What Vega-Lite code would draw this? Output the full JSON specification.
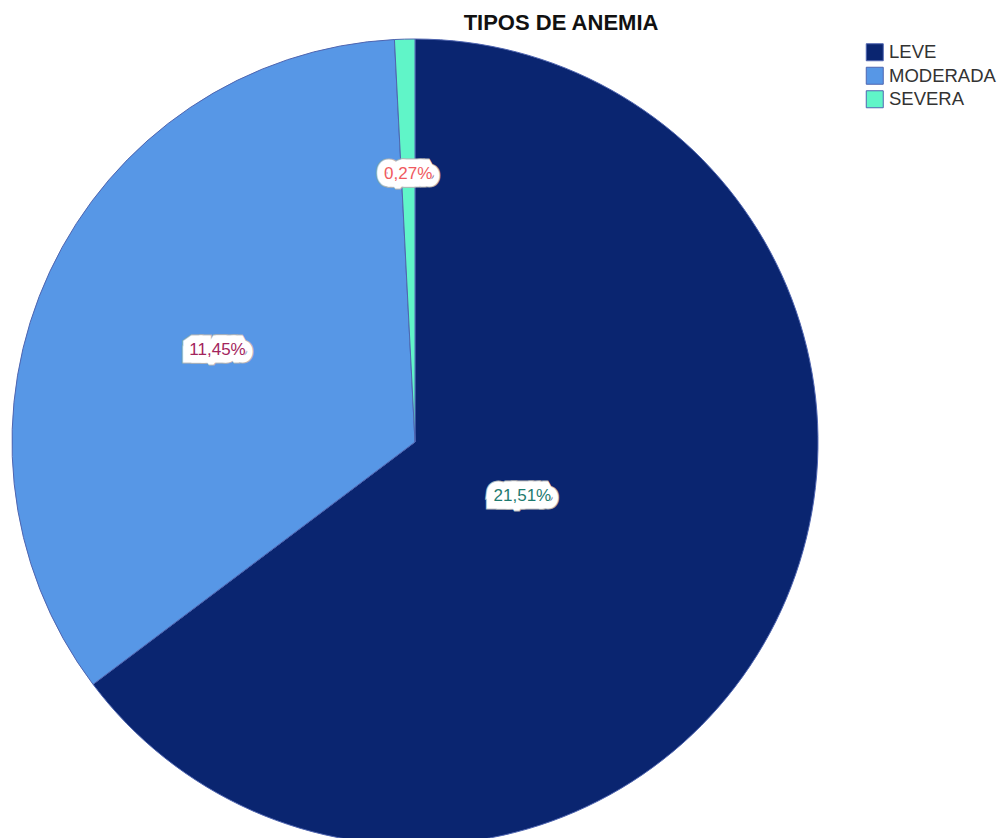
{
  "$schema": "https://vega.github.io/schema/vega-lite/v6.json",
  "width": 830,
  "height": 792,
  "autosize": {"type": "none"},
  "padding": {"top": 46, "left": 0, "right": 174, "bottom": 0},
  "background": "white",
  "title": {
    "text": "TIPOS DE ANEMIA",
    "fontSize": 22,
    "font": "Liberation Sans",
    "fontWeight": "bold",
    "color": "#111111",
    "anchor": "middle",
    "frame": "group",
    "baseline": "alphabetic",
    "offset": -15,
    "dx": 146
  },
  "data": {
    "values": [
      {"tipo": "LEVE", "porcentaje": 21.51, "etiqueta": "21,51%"},
      {"tipo": "MODERADA", "porcentaje": 11.45, "etiqueta": "11,45%"},
      {"tipo": "SEVERA", "porcentaje": 0.27, "etiqueta": "0,27%"}
    ]
  },
  "encoding": {
    "theta": {"field": "porcentaje", "type": "quantitative", "stack": true},
    "order": {"field": "tipo", "type": "ordinal", "sort": "ascending"}
  },
  "layer": [
    {
      "mark": {"type": "arc", "radius": 403, "stroke": "#4f65b0", "strokeWidth": 1},
      "encoding": {
        "color": {
          "field": "tipo",
          "type": "nominal",
          "scale": {"domain": ["LEVE", "MODERADA", "SEVERA"], "range": ["#0a2570", "#5797e6", "#60f5c8"]},
          "legend": {
            "title": null,
            "orient": "none",
            "legendX": 865.5,
            "legendY": -3,
            "symbolType": "square",
            "symbolSize": 289,
            "symbolStrokeColor": "#4f65b0",
            "symbolStrokeWidth": 1,
            "labelFontSize": 18.5,
            "labelFont": "Liberation Sans",
            "labelColor": "#333333",
            "labelOffset": 5,
            "rowPadding": 1.5
          }
        }
      }
    },
    {
      "mark": {"type": "text", "font": "Liberation Sans", "fontSize": 17, "fill": "#b4b4b4", "stroke": "#b4b4b4", "strokeWidth": 17, "strokeJoin": "miter", "strokeMiterLimit": 1.5},
      "encoding": {
        "text": {"field": "etiqueta", "type": "nominal"},
        "detail": {"field": "tipo", "type": "nominal"},
        "radius": {"field": "porcentaje", "type": "quantitative", "scale": {"type": "linear", "domain": [0.27, 11.45, 21.51], "range": [268, 218, 120], "zero": false, "nice": false}}
      }
    },
    {
      "mark": {"type": "text", "font": "Liberation Sans", "fontSize": 17, "fill": "#ffffff", "stroke": "#ffffff", "strokeWidth": 15, "strokeJoin": "miter", "strokeMiterLimit": 1.5},
      "encoding": {
        "text": {"field": "etiqueta", "type": "nominal"},
        "detail": {"field": "tipo", "type": "nominal"},
        "radius": {"field": "porcentaje", "type": "quantitative"}
      }
    },
    {
      "mark": {"type": "text", "font": "Liberation Sans", "fontSize": 17},
      "encoding": {
        "text": {"field": "etiqueta", "type": "nominal"},
        "fill": {"field": "tipo", "type": "nominal", "scale": {"domain": ["LEVE", "MODERADA", "SEVERA"], "range": ["#1d7a6f", "#a3245d", "#f05a60"]}, "legend": null},
        "radius": {"field": "porcentaje", "type": "quantitative"}
      }
    }
  ]
}
